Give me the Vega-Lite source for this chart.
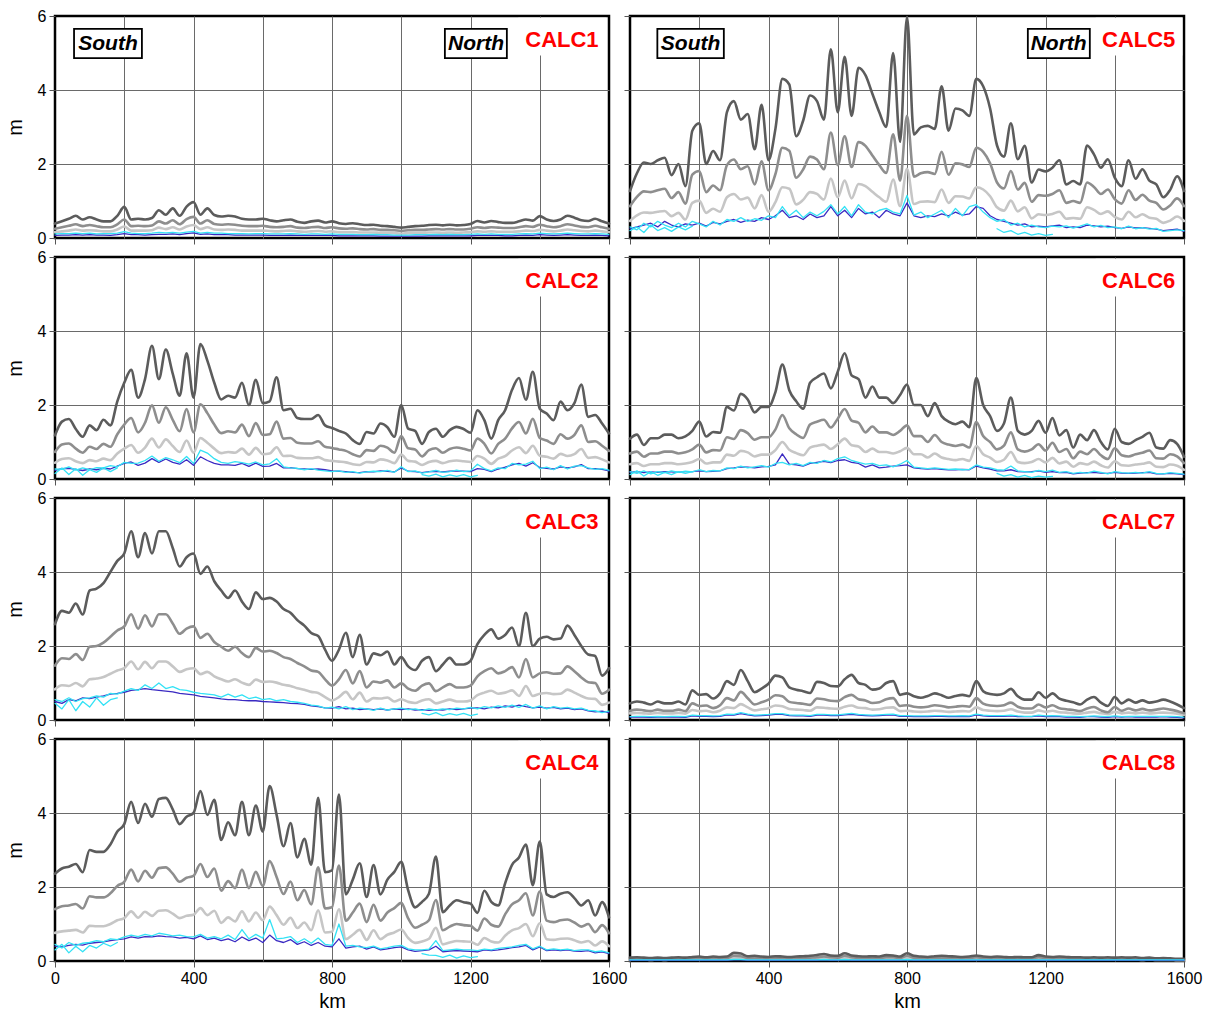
{
"$schema":"https://vega.github.io/schema/vega-lite/v6.json",
"padding":{"left":3,"top":6,"right":5,"bottom":0},
"background":"white",
"config":{"font":"Liberation Sans","view":{"stroke":"#000","strokeWidth":2.5},
"axis":{"domain":false,"grid":true,"gridColor":"#6a6a6a","gridWidth":1,"tickColor":"#555","tickSize":6,"tickWidth":1,"labelFontSize":16,"labelColor":"#000","labelPadding":3,"titleFontSize":20,"titleFontWeight":"normal","titleColor":"#000","labelOverlap":false,"labelFlush":false},
"line":{"strokeJoin":"round","strokeCap":"round"}},
"datasets":{
"c1":[{"km":0,"d":0.39,"m":0.25,"l":0.16,"b":0.07,"c":0.11},{"km":20,"d":0.45,"m":0.29,"l":0.18,"b":0.08,"c":0.12},{"km":40,"d":0.52,"m":0.33,"l":0.2,"b":0.08,"c":0.12},{"km":60,"d":0.6,"m":0.37,"l":0.23,"b":0.09,"c":0.13},{"km":80,"d":0.5,"m":0.32,"l":0.2,"b":0.08,"c":0.12},{"km":100,"d":0.56,"m":0.35,"l":0.21,"b":0.09,"c":0.13},{"km":120,"d":0.5,"m":0.32,"l":0.2,"b":0.08,"c":0.11},{"km":140,"d":0.45,"m":0.29,"l":0.18,"b":0.08,"c":0.12},{"km":160,"d":0.45,"m":0.29,"l":0.18,"b":0.07,"c":0.12},{"km":180,"d":0.6,"m":0.37,"l":0.23,"b":0.09,"c":0.13},{"km":200,"d":0.84,"m":0.5,"l":0.31,"b":0.12,"c":0.17},{"km":220,"d":0.5,"m":0.32,"l":0.2,"b":0.09,"c":0.13},{"km":240,"d":0.52,"m":0.33,"l":0.2,"b":0.09,"c":0.12},{"km":260,"d":0.5,"m":0.32,"l":0.2,"b":0.08,"c":0.12},{"km":280,"d":0.54,"m":0.34,"l":0.21,"b":0.09,"c":0.13},{"km":300,"d":0.75,"m":0.45,"l":0.28,"b":0.1,"c":0.15},{"km":320,"d":0.63,"m":0.39,"l":0.24,"b":0.1,"c":0.14},{"km":340,"d":0.8,"m":0.48,"l":0.29,"b":0.11,"c":0.15},{"km":360,"d":0.6,"m":0.37,"l":0.23,"b":0.09,"c":0.13},{"km":380,"d":0.85,"m":0.51,"l":0.31,"b":0.12,"c":0.16},{"km":400,"d":0.97,"m":0.57,"l":0.35,"b":0.14,"c":0.18},{"km":420,"d":0.63,"m":0.39,"l":0.24,"b":0.1,"c":0.13},{"km":440,"d":0.8,"m":0.48,"l":0.29,"b":0.11,"c":0.15},{"km":460,"d":0.62,"m":0.38,"l":0.23,"b":0.09,"c":0.13},{"km":480,"d":0.58,"m":0.36,"l":0.22,"b":0.09,"c":0.13},{"km":500,"d":0.6,"m":0.37,"l":0.23,"b":0.09,"c":0.12},{"km":520,"d":0.58,"m":0.36,"l":0.22,"b":0.08,"c":0.12},{"km":540,"d":0.52,"m":0.33,"l":0.2,"b":0.08,"c":0.12},{"km":560,"d":0.5,"m":0.32,"l":0.2,"b":0.08,"c":0.11},{"km":580,"d":0.5,"m":0.32,"l":0.2,"b":0.08,"c":0.12},{"km":600,"d":0.52,"m":0.33,"l":0.2,"b":0.08,"c":0.12},{"km":620,"d":0.48,"m":0.3,"l":0.19,"b":0.07,"c":0.11},{"km":640,"d":0.45,"m":0.29,"l":0.18,"b":0.07,"c":0.11},{"km":660,"d":0.48,"m":0.3,"l":0.19,"b":0.07,"c":0.11},{"km":680,"d":0.5,"m":0.32,"l":0.2,"b":0.08,"c":0.12},{"km":700,"d":0.44,"m":0.28,"l":0.18,"b":0.07,"c":0.11},{"km":720,"d":0.41,"m":0.27,"l":0.17,"b":0.07,"c":0.1},{"km":740,"d":0.45,"m":0.29,"l":0.18,"b":0.07,"c":0.11},{"km":760,"d":0.47,"m":0.3,"l":0.19,"b":0.07,"c":0.11},{"km":780,"d":0.42,"m":0.27,"l":0.17,"b":0.07,"c":0.1},{"km":800,"d":0.45,"m":0.29,"l":0.18,"b":0.07,"c":0.11},{"km":820,"d":0.4,"m":0.26,"l":0.16,"b":0.06,"c":0.1},{"km":840,"d":0.38,"m":0.25,"l":0.16,"b":0.06,"c":0.1},{"km":860,"d":0.4,"m":0.26,"l":0.16,"b":0.06,"c":0.1},{"km":880,"d":0.37,"m":0.24,"l":0.15,"b":0.06,"c":0.09},{"km":900,"d":0.35,"m":0.23,"l":0.15,"b":0.06,"c":0.09},{"km":920,"d":0.36,"m":0.24,"l":0.15,"b":0.06,"c":0.1},{"km":940,"d":0.33,"m":0.22,"l":0.14,"b":0.05,"c":0.09},{"km":960,"d":0.32,"m":0.22,"l":0.14,"b":0.05,"c":0.09},{"km":980,"d":0.3,"m":0.21,"l":0.13,"b":0.05,"c":0.08},{"km":1000,"d":0.28,"m":0.19,"l":0.12,"b":0.05,"c":0.08},{"km":1020,"d":0.3,"m":0.21,"l":0.13,"b":0.05,"c":0.08},{"km":1040,"d":0.32,"m":0.22,"l":0.14,"b":0.05,"c":0.09},{"km":1060,"d":0.33,"m":0.22,"l":0.14,"b":0.05,"c":0.09},{"km":1080,"d":0.35,"m":0.23,"l":0.15,"b":0.06,"c":0.09},{"km":1100,"d":0.36,"m":0.24,"l":0.15,"b":0.06,"c":0.1},{"km":1120,"d":0.34,"m":0.23,"l":0.14,"b":0.06,"c":0.09},{"km":1140,"d":0.36,"m":0.24,"l":0.15,"b":0.06,"c":0.1},{"km":1160,"d":0.34,"m":0.23,"l":0.14,"b":0.06,"c":0.09},{"km":1180,"d":0.35,"m":0.23,"l":0.15,"b":0.06,"c":0.09},{"km":1200,"d":0.38,"m":0.25,"l":0.16,"b":0.06,"c":0.1},{"km":1220,"d":0.46,"m":0.29,"l":0.18,"b":0.07,"c":0.11},{"km":1240,"d":0.42,"m":0.27,"l":0.17,"b":0.07,"c":0.1},{"km":1260,"d":0.46,"m":0.29,"l":0.18,"b":0.07,"c":0.11},{"km":1280,"d":0.43,"m":0.28,"l":0.17,"b":0.07,"c":0.1},{"km":1300,"d":0.41,"m":0.27,"l":0.17,"b":0.06,"c":0.1},{"km":1320,"d":0.41,"m":0.27,"l":0.17,"b":0.06,"c":0.1},{"km":1340,"d":0.45,"m":0.29,"l":0.18,"b":0.07,"c":0.11},{"km":1360,"d":0.5,"m":0.32,"l":0.2,"b":0.08,"c":0.12},{"km":1380,"d":0.47,"m":0.3,"l":0.19,"b":0.07,"c":0.11},{"km":1400,"d":0.59,"m":0.36,"l":0.22,"b":0.09,"c":0.13},{"km":1420,"d":0.5,"m":0.32,"l":0.2,"b":0.08,"c":0.12},{"km":1440,"d":0.46,"m":0.29,"l":0.18,"b":0.07,"c":0.11},{"km":1460,"d":0.5,"m":0.32,"l":0.2,"b":0.08,"c":0.12},{"km":1480,"d":0.6,"m":0.37,"l":0.23,"b":0.09,"c":0.13},{"km":1500,"d":0.55,"m":0.34,"l":0.21,"b":0.08,"c":0.12},{"km":1520,"d":0.48,"m":0.3,"l":0.19,"b":0.07,"c":0.11},{"km":1540,"d":0.46,"m":0.29,"l":0.18,"b":0.07,"c":0.11},{"km":1560,"d":0.52,"m":0.33,"l":0.2,"b":0.08,"c":0.12},{"km":1580,"d":0.45,"m":0.29,"l":0.18,"b":0.07,"c":0.11},{"km":1600,"d":0.39,"m":0.25,"l":0.16,"b":0.06,"c":0.1}],
"c2":[{"km":0,"d":1.18,"m":0.73,"l":0.44,"b":0.23,"c":0.27,"c2":0.15},{"km":20,"d":1.55,"m":0.93,"l":0.54,"b":0.28,"c":0.26,"c2":0.3},{"km":40,"d":1.62,"m":0.96,"l":0.56,"b":0.29,"c":0.33,"c2":0.12},{"km":60,"d":1.35,"m":0.82,"l":0.48,"b":0.26,"c":0.24,"c2":0.28},{"km":80,"d":1.14,"m":0.71,"l":0.43,"b":0.23,"c":0.3,"c2":0.1},{"km":100,"d":1.45,"m":0.87,"l":0.51,"b":0.27,"c":0.25,"c2":0.25},{"km":120,"d":1.32,"m":0.81,"l":0.48,"b":0.25,"c":0.31,"c2":0.18},{"km":140,"d":1.6,"m":0.95,"l":0.55,"b":0.29,"c":0.3,"c2":0.3},{"km":160,"d":1.45,"m":0.87,"l":0.51,"b":0.27,"c":0.36,"c2":0.2},{"km":180,"d":2.1,"m":1.21,"l":0.69,"b":0.35,"c":0.33,"c2":0.3},{"km":200,"d":2.6,"m":1.47,"l":0.82,"b":0.42,"c":0.45},{"km":220,"d":2.95,"m":1.65,"l":0.92,"b":0.46,"c":0.42},{"km":240,"d":2.2,"m":1.26,"l":0.71,"b":0.37,"c":0.43},{"km":260,"d":2.7,"m":1.52,"l":0.85,"b":0.43,"c":0.5},{"km":280,"d":3.6,"m":1.99,"l":1.09,"b":0.55,"c":0.62},{"km":300,"d":2.7,"m":1.52,"l":0.85,"b":0.45,"c":0.48},{"km":320,"d":3.5,"m":1.94,"l":1.07,"b":0.54,"c":0.58},{"km":340,"d":2.85,"m":1.6,"l":0.89,"b":0.45,"c":0.52},{"km":360,"d":2.25,"m":1.29,"l":0.73,"b":0.4,"c":0.44},{"km":380,"d":3.4,"m":1.89,"l":1.04,"b":0.52,"c":0.61},{"km":400,"d":2.2,"m":1.26,"l":0.71,"b":0.37,"c":0.42},{"km":420,"d":3.65,"m":2.02,"l":1.11,"b":0.6,"c":0.78},{"km":440,"d":3.2,"m":1.78,"l":0.98,"b":0.5,"c":0.7},{"km":460,"d":2.6,"m":1.47,"l":0.82,"b":0.42,"c":0.55},{"km":480,"d":2.15,"m":1.24,"l":0.7,"b":0.38,"c":0.45},{"km":500,"d":2.25,"m":1.29,"l":0.73,"b":0.38,"c":0.42},{"km":520,"d":2.2,"m":1.26,"l":0.71,"b":0.37,"c":0.47},{"km":540,"d":2.6,"m":1.47,"l":0.82,"b":0.42,"c":0.44},{"km":560,"d":2.0,"m":1.16,"l":0.66,"b":0.34,"c":0.4},{"km":580,"d":2.68,"m":1.51,"l":0.84,"b":0.43,"c":0.46},{"km":600,"d":2.05,"m":1.19,"l":0.67,"b":0.34,"c":0.38},{"km":620,"d":2.1,"m":1.21,"l":0.69,"b":0.35,"c":0.41},{"km":640,"d":2.75,"m":1.55,"l":0.86,"b":0.42,"c":0.55},{"km":660,"d":1.86,"m":1.09,"l":0.62,"b":0.3,"c":0.33},{"km":680,"d":1.9,"m":1.11,"l":0.63,"b":0.31,"c":0.3},{"km":700,"d":1.65,"m":0.98,"l":0.57,"b":0.28,"c":0.29},{"km":720,"d":1.62,"m":0.96,"l":0.56,"b":0.27,"c":0.25},{"km":740,"d":1.62,"m":0.96,"l":0.56,"b":0.26,"c":0.28},{"km":760,"d":1.73,"m":1.02,"l":0.59,"b":0.27,"c":0.24},{"km":780,"d":1.45,"m":0.87,"l":0.51,"b":0.25,"c":0.22},{"km":800,"d":1.38,"m":0.84,"l":0.49,"b":0.22,"c":0.2},{"km":820,"d":1.3,"m":0.8,"l":0.47,"b":0.21,"c":0.22},{"km":840,"d":1.23,"m":0.76,"l":0.45,"b":0.2,"c":0.18},{"km":860,"d":1.05,"m":0.67,"l":0.4,"b":0.18,"c":0.2},{"km":880,"d":0.95,"m":0.61,"l":0.38,"b":0.17,"c":0.16},{"km":900,"d":1.27,"m":0.78,"l":0.46,"b":0.2,"c":0.19},{"km":920,"d":1.23,"m":0.76,"l":0.45,"b":0.19,"c":0.21},{"km":940,"d":1.5,"m":0.9,"l":0.53,"b":0.22,"c":0.2},{"km":960,"d":1.4,"m":0.85,"l":0.5,"b":0.21,"c":0.23},{"km":980,"d":1.14,"m":0.71,"l":0.43,"b":0.19,"c":0.18},{"km":1000,"d":2.0,"m":1.16,"l":0.66,"b":0.3,"c":0.33},{"km":1020,"d":1.36,"m":0.83,"l":0.49,"b":0.21,"c":0.2},{"km":1040,"d":1.3,"m":0.8,"l":0.47,"b":0.2,"c":0.22},{"km":1060,"d":0.95,"m":0.61,"l":0.38,"b":0.17,"c":0.16,"c2":0.12},{"km":1080,"d":1.27,"m":0.78,"l":0.46,"b":0.2,"c":0.19,"c2":0.08},{"km":1100,"d":1.36,"m":0.83,"l":0.49,"b":0.21,"c":0.23,"c2":0.13},{"km":1120,"d":1.14,"m":0.71,"l":0.43,"b":0.19,"c":0.18,"c2":0.06},{"km":1140,"d":1.32,"m":0.81,"l":0.48,"b":0.21,"c":0.2,"c2":0.11},{"km":1160,"d":1.41,"m":0.85,"l":0.5,"b":0.22,"c":0.24,"c2":0.07},{"km":1180,"d":1.35,"m":0.82,"l":0.48,"b":0.21,"c":0.2,"c2":0.12},{"km":1200,"d":1.25,"m":0.77,"l":0.46,"b":0.2,"c":0.22,"c2":0.06},{"km":1220,"d":1.86,"m":1.09,"l":0.62,"b":0.28,"c":0.4,"c2":0.1},{"km":1240,"d":1.59,"m":0.95,"l":0.55,"b":0.26,"c":0.28},{"km":1260,"d":1.09,"m":0.69,"l":0.41,"b":0.2,"c":0.22},{"km":1280,"d":1.59,"m":0.95,"l":0.55,"b":0.27,"c":0.3},{"km":1300,"d":1.86,"m":1.09,"l":0.62,"b":0.32,"c":0.28},{"km":1320,"d":2.41,"m":1.37,"l":0.77,"b":0.38,"c":0.42},{"km":1340,"d":2.73,"m":1.54,"l":0.86,"b":0.42,"c":0.38},{"km":1360,"d":2.14,"m":1.23,"l":0.7,"b":0.35,"c":0.4},{"km":1380,"d":2.9,"m":1.63,"l":0.9,"b":0.44,"c":0.48},{"km":1400,"d":1.9,"m":1.11,"l":0.63,"b":0.31,"c":0.28},{"km":1420,"d":1.77,"m":1.04,"l":0.6,"b":0.29,"c":0.32},{"km":1440,"d":1.59,"m":0.95,"l":0.55,"b":0.27,"c":0.25},{"km":1460,"d":2.09,"m":1.21,"l":0.68,"b":0.33,"c":0.36},{"km":1480,"d":1.86,"m":1.09,"l":0.62,"b":0.3,"c":0.27},{"km":1500,"d":2.05,"m":1.19,"l":0.67,"b":0.33,"c":0.35},{"km":1520,"d":2.55,"m":1.45,"l":0.81,"b":0.39,"c":0.36},{"km":1540,"d":1.68,"m":1.0,"l":0.57,"b":0.28,"c":0.3},{"km":1560,"d":1.73,"m":1.02,"l":0.59,"b":0.28,"c":0.26},{"km":1580,"d":1.5,"m":0.9,"l":0.53,"b":0.26,"c":0.28},{"km":1600,"d":1.23,"m":0.76,"l":0.45,"b":0.22,"c":0.24}],
"c3":[{"km":0,"d":2.59,"m":1.47,"l":0.83,"b":0.5,"c":0.55,"c2":0.45},{"km":20,"d":2.95,"m":1.67,"l":0.94,"b":0.45,"c":0.5,"c2":0.3},{"km":40,"d":2.9,"m":1.65,"l":0.92,"b":0.55,"c":0.6,"c2":0.55},{"km":60,"d":3.15,"m":1.78,"l":1.0,"b":0.52,"c":0.5,"c2":0.25},{"km":80,"d":2.85,"m":1.62,"l":0.91,"b":0.6,"c":0.58,"c2":0.5},{"km":100,"d":3.5,"m":1.98,"l":1.1,"b":0.58,"c":0.6,"c2":0.35},{"km":120,"d":3.55,"m":2.0,"l":1.12,"b":0.62,"c":0.65,"c2":0.6},{"km":140,"d":3.7,"m":2.09,"l":1.16,"b":0.65,"c":0.62,"c2":0.4},{"km":160,"d":4.0,"m":2.25,"l":1.25,"b":0.7,"c":0.72,"c2":0.55},{"km":180,"d":4.3,"m":2.42,"l":1.34,"b":0.72,"c":0.7,"c2":0.6},{"km":200,"d":4.5,"m":2.53,"l":1.4,"b":0.75,"c":0.78},{"km":220,"d":5.1,"m":2.86,"l":1.58,"b":0.8,"c":0.85},{"km":240,"d":4.4,"m":2.47,"l":1.37,"b":0.82,"c":0.8},{"km":260,"d":5.05,"m":2.83,"l":1.57,"b":0.85,"c":0.95},{"km":280,"d":4.5,"m":2.53,"l":1.4,"b":0.82,"c":0.85},{"km":300,"d":5.1,"m":2.86,"l":1.58,"b":0.8,"c":1.0},{"km":320,"d":5.1,"m":2.86,"l":1.58,"b":0.78,"c":0.85},{"km":340,"d":4.65,"m":2.61,"l":1.45,"b":0.76,"c":0.9},{"km":360,"d":4.15,"m":2.33,"l":1.3,"b":0.72,"c":0.82},{"km":380,"d":4.4,"m":2.47,"l":1.37,"b":0.7,"c":0.8},{"km":400,"d":4.5,"m":2.53,"l":1.4,"b":0.68,"c":0.75},{"km":420,"d":3.95,"m":2.22,"l":1.24,"b":0.64,"c":0.72},{"km":440,"d":4.15,"m":2.33,"l":1.3,"b":0.62,"c":0.7},{"km":460,"d":3.75,"m":2.11,"l":1.18,"b":0.6,"c":0.68},{"km":480,"d":3.5,"m":1.98,"l":1.1,"b":0.57,"c":0.62},{"km":500,"d":3.3,"m":1.87,"l":1.04,"b":0.55,"c":0.7},{"km":520,"d":3.5,"m":1.98,"l":1.1,"b":0.55,"c":0.62},{"km":540,"d":3.2,"m":1.81,"l":1.01,"b":0.53,"c":0.68},{"km":560,"d":3.0,"m":1.7,"l":0.95,"b":0.52,"c":0.58},{"km":580,"d":3.45,"m":1.95,"l":1.09,"b":0.52,"c":0.62},{"km":600,"d":3.27,"m":1.85,"l":1.03,"b":0.5,"c":0.55},{"km":620,"d":3.3,"m":1.87,"l":1.04,"b":0.49,"c":0.58},{"km":640,"d":3.2,"m":1.81,"l":1.01,"b":0.48,"c":0.52},{"km":660,"d":3.0,"m":1.7,"l":0.95,"b":0.47,"c":0.55},{"km":680,"d":2.9,"m":1.65,"l":0.92,"b":0.45,"c":0.5},{"km":700,"d":2.7,"m":1.54,"l":0.86,"b":0.44,"c":0.48},{"km":720,"d":2.55,"m":1.45,"l":0.82,"b":0.42,"c":0.45},{"km":740,"d":2.35,"m":1.34,"l":0.76,"b":0.38,"c":0.4},{"km":760,"d":2.27,"m":1.3,"l":0.73,"b":0.36,"c":0.38},{"km":780,"d":1.9,"m":1.1,"l":0.62,"b":0.33,"c":0.32},{"km":800,"d":1.6,"m":0.93,"l":0.53,"b":0.32,"c":0.35},{"km":820,"d":1.9,"m":1.1,"l":0.62,"b":0.36,"c":0.3},{"km":840,"d":2.36,"m":1.35,"l":0.76,"b":0.3,"c":0.36},{"km":860,"d":1.7,"m":0.99,"l":0.56,"b":0.32,"c":0.28},{"km":880,"d":2.3,"m":1.32,"l":0.74,"b":0.28,"c":0.32},{"km":900,"d":1.5,"m":0.88,"l":0.5,"b":0.3,"c":0.3},{"km":920,"d":1.8,"m":1.04,"l":0.59,"b":0.28,"c":0.26},{"km":940,"d":1.75,"m":1.01,"l":0.58,"b":0.3,"c":0.32},{"km":960,"d":1.85,"m":1.07,"l":0.61,"b":0.27,"c":0.27},{"km":980,"d":1.5,"m":0.88,"l":0.5,"b":0.3,"c":0.3},{"km":1000,"d":1.7,"m":0.99,"l":0.56,"b":0.28,"c":0.32},{"km":1020,"d":1.45,"m":0.85,"l":0.49,"b":0.3,"c":0.28},{"km":1040,"d":1.35,"m":0.79,"l":0.46,"b":0.27,"c":0.3},{"km":1060,"d":1.6,"m":0.93,"l":0.53,"b":0.28,"c":0.26,"c2":0.18},{"km":1080,"d":1.7,"m":0.99,"l":0.56,"b":0.26,"c":0.3,"c2":0.14},{"km":1100,"d":1.32,"m":0.78,"l":0.45,"b":0.28,"c":0.27,"c2":0.2},{"km":1120,"d":1.5,"m":0.88,"l":0.5,"b":0.27,"c":0.3,"c2":0.12},{"km":1140,"d":1.68,"m":0.97,"l":0.55,"b":0.3,"c":0.28,"c2":0.17},{"km":1160,"d":1.5,"m":0.88,"l":0.5,"b":0.28,"c":0.32,"c2":0.13},{"km":1180,"d":1.5,"m":0.88,"l":0.5,"b":0.3,"c":0.3,"c2":0.18},{"km":1200,"d":1.6,"m":0.93,"l":0.53,"b":0.32,"c":0.34,"c2":0.12},{"km":1220,"d":2.05,"m":1.18,"l":0.67,"b":0.33,"c":0.3,"c2":0.16},{"km":1240,"d":2.3,"m":1.32,"l":0.74,"b":0.3,"c":0.36},{"km":1260,"d":2.45,"m":1.4,"l":0.79,"b":0.35,"c":0.33},{"km":1280,"d":2.2,"m":1.26,"l":0.71,"b":0.33,"c":0.38},{"km":1300,"d":2.3,"m":1.32,"l":0.74,"b":0.38,"c":0.34},{"km":1320,"d":2.5,"m":1.43,"l":0.8,"b":0.35,"c":0.4},{"km":1340,"d":2.0,"m":1.15,"l":0.65,"b":0.4,"c":0.34},{"km":1360,"d":2.9,"m":1.65,"l":0.92,"b":0.36,"c":0.42},{"km":1380,"d":2.0,"m":1.15,"l":0.65,"b":0.33,"c":0.32},{"km":1400,"d":2.2,"m":1.26,"l":0.71,"b":0.35,"c":0.38},{"km":1420,"d":2.25,"m":1.29,"l":0.73,"b":0.32,"c":0.3},{"km":1440,"d":2.18,"m":1.25,"l":0.7,"b":0.34,"c":0.36},{"km":1460,"d":2.2,"m":1.26,"l":0.71,"b":0.3,"c":0.32},{"km":1480,"d":2.55,"m":1.45,"l":0.82,"b":0.32,"c":0.34},{"km":1500,"d":2.3,"m":1.32,"l":0.74,"b":0.28,"c":0.3},{"km":1520,"d":2.0,"m":1.15,"l":0.65,"b":0.3,"c":0.32},{"km":1540,"d":1.77,"m":1.02,"l":0.58,"b":0.25,"c":0.26},{"km":1560,"d":1.73,"m":1.0,"l":0.57,"b":0.22,"c":0.25},{"km":1580,"d":1.2,"m":0.71,"l":0.41,"b":0.24,"c":0.2},{"km":1600,"d":1.4,"m":0.82,"l":0.47,"b":0.2,"c":0.24}],
"c4":[{"km":0,"d":2.36,"m":1.4,"l":0.76,"b":0.4,"c":0.45,"c2":0.3},{"km":20,"d":2.5,"m":1.48,"l":0.8,"b":0.38,"c":0.35,"c2":0.45},{"km":40,"d":2.55,"m":1.5,"l":0.82,"b":0.42,"c":0.5,"c2":0.22},{"km":60,"d":2.62,"m":1.54,"l":0.84,"b":0.45,"c":0.42,"c2":0.4},{"km":80,"d":2.4,"m":1.42,"l":0.77,"b":0.43,"c":0.48,"c2":0.25},{"km":100,"d":3.0,"m":1.75,"l":0.95,"b":0.48,"c":0.5,"c2":0.42},{"km":120,"d":2.95,"m":1.72,"l":0.94,"b":0.5,"c":0.55,"c2":0.35},{"km":140,"d":2.95,"m":1.72,"l":0.94,"b":0.52,"c":0.52,"c2":0.48},{"km":160,"d":3.15,"m":1.83,"l":1.0,"b":0.55,"c":0.6,"c2":0.4},{"km":180,"d":3.5,"m":2.03,"l":1.1,"b":0.58,"c":0.58,"c2":0.5},{"km":200,"d":3.7,"m":2.14,"l":1.16,"b":0.6,"c":0.65},{"km":220,"d":4.3,"m":2.47,"l":1.34,"b":0.65,"c":0.7},{"km":240,"d":3.73,"m":2.15,"l":1.17,"b":0.62,"c":0.66},{"km":260,"d":4.25,"m":2.44,"l":1.33,"b":0.66,"c":0.72},{"km":280,"d":3.9,"m":2.25,"l":1.22,"b":0.65,"c":0.68},{"km":300,"d":4.38,"m":2.51,"l":1.36,"b":0.68,"c":0.75},{"km":320,"d":4.41,"m":2.53,"l":1.37,"b":0.66,"c":0.72},{"km":340,"d":4.1,"m":2.36,"l":1.28,"b":0.65,"c":0.68},{"km":360,"d":3.7,"m":2.14,"l":1.16,"b":0.62,"c":0.7},{"km":380,"d":3.9,"m":2.25,"l":1.22,"b":0.64,"c":0.66},{"km":400,"d":4.0,"m":2.3,"l":1.25,"b":0.6,"c":0.65},{"km":420,"d":4.59,"m":2.62,"l":1.43,"b":0.68,"c":0.72},{"km":440,"d":3.95,"m":2.27,"l":1.24,"b":0.58,"c":0.62},{"km":460,"d":4.36,"m":2.5,"l":1.36,"b":0.62,"c":0.66},{"km":480,"d":3.27,"m":1.9,"l":1.03,"b":0.55,"c":0.6},{"km":500,"d":3.75,"m":2.16,"l":1.18,"b":0.6,"c":0.7},{"km":520,"d":3.4,"m":1.97,"l":1.07,"b":0.52,"c":0.58},{"km":540,"d":4.3,"m":2.47,"l":1.34,"b":0.65,"c":0.85},{"km":560,"d":3.4,"m":1.97,"l":1.07,"b":0.55,"c":0.6},{"km":580,"d":4.2,"m":2.41,"l":1.31,"b":0.62,"c":0.72},{"km":600,"d":3.5,"m":2.03,"l":1.1,"b":0.5,"c":0.62},{"km":620,"d":4.73,"m":2.7,"l":1.47,"b":0.7,"c":1.12},{"km":640,"d":3.95,"m":2.27,"l":1.24,"b":0.55,"c":0.6},{"km":660,"d":3.1,"m":1.81,"l":0.98,"b":0.5,"c":0.62},{"km":680,"d":3.73,"m":2.15,"l":1.17,"b":0.58,"c":0.66},{"km":700,"d":2.8,"m":1.64,"l":0.89,"b":0.45,"c":0.5},{"km":720,"d":3.3,"m":1.92,"l":1.04,"b":0.52,"c":0.6},{"km":740,"d":2.6,"m":1.53,"l":0.83,"b":0.42,"c":0.48},{"km":760,"d":4.41,"m":2.53,"l":1.37,"b":0.5,"c":0.62},{"km":780,"d":2.4,"m":1.42,"l":0.77,"b":0.4,"c":0.45},{"km":800,"d":2.45,"m":1.45,"l":0.79,"b":0.38,"c":0.42},{"km":820,"d":4.5,"m":2.58,"l":1.4,"b":0.6,"c":1.0},{"km":840,"d":1.8,"m":1.09,"l":0.59,"b":0.35,"c":0.4},{"km":860,"d":2.2,"m":1.31,"l":0.71,"b":0.38,"c":0.42},{"km":880,"d":2.64,"m":1.55,"l":0.84,"b":0.4,"c":0.38},{"km":900,"d":1.73,"m":1.05,"l":0.57,"b":0.32,"c":0.36},{"km":920,"d":2.59,"m":1.52,"l":0.83,"b":0.38,"c":0.4},{"km":940,"d":1.8,"m":1.09,"l":0.59,"b":0.3,"c":0.33},{"km":960,"d":2.2,"m":1.31,"l":0.71,"b":0.33,"c":0.36},{"km":980,"d":2.41,"m":1.43,"l":0.77,"b":0.36,"c":0.4},{"km":1000,"d":2.68,"m":1.57,"l":0.85,"b":0.38,"c":0.42},{"km":1020,"d":1.91,"m":1.15,"l":0.62,"b":0.3,"c":0.33},{"km":1040,"d":1.45,"m":0.9,"l":0.49,"b":0.26,"c":0.3},{"km":1060,"d":1.6,"m":0.98,"l":0.53,"b":0.28,"c":0.3,"c2":0.2},{"km":1080,"d":1.82,"m":1.1,"l":0.6,"b":0.3,"c":0.32,"c2":0.16},{"km":1100,"d":2.82,"m":1.65,"l":0.9,"b":0.4,"c":0.55,"c2":0.15},{"km":1120,"d":1.32,"m":0.83,"l":0.45,"b":0.25,"c":0.28,"c2":0.1},{"km":1140,"d":1.5,"m":0.93,"l":0.5,"b":0.27,"c":0.3,"c2":0.16},{"km":1160,"d":1.64,"m":1.0,"l":0.54,"b":0.28,"c":0.32,"c2":0.08},{"km":1180,"d":1.59,"m":0.97,"l":0.53,"b":0.27,"c":0.3,"c2":0.14},{"km":1200,"d":1.55,"m":0.95,"l":0.52,"b":0.26,"c":0.3,"c2":0.09},{"km":1220,"d":1.3,"m":0.82,"l":0.44,"b":0.25,"c":0.28,"c2":0.12},{"km":1240,"d":1.9,"m":1.15,"l":0.62,"b":0.3,"c":0.32},{"km":1260,"d":1.6,"m":0.98,"l":0.53,"b":0.28,"c":0.3},{"km":1280,"d":1.5,"m":0.93,"l":0.5,"b":0.3,"c":0.34},{"km":1300,"d":2.1,"m":1.26,"l":0.68,"b":0.33,"c":0.36},{"km":1320,"d":2.6,"m":1.53,"l":0.83,"b":0.36,"c":0.38},{"km":1340,"d":2.8,"m":1.64,"l":0.89,"b":0.38,"c":0.42},{"km":1360,"d":3.15,"m":1.83,"l":1.0,"b":0.42,"c":0.45},{"km":1380,"d":2.05,"m":1.23,"l":0.67,"b":0.3,"c":0.33},{"km":1400,"d":3.23,"m":1.88,"l":1.02,"b":0.38,"c":0.4},{"km":1420,"d":1.8,"m":1.09,"l":0.59,"b":0.28,"c":0.3},{"km":1440,"d":1.73,"m":1.05,"l":0.57,"b":0.3,"c":0.33},{"km":1460,"d":1.82,"m":1.1,"l":0.6,"b":0.28,"c":0.3},{"km":1480,"d":1.86,"m":1.12,"l":0.61,"b":0.3,"c":0.32},{"km":1500,"d":1.7,"m":1.04,"l":0.56,"b":0.27,"c":0.28},{"km":1520,"d":1.5,"m":0.93,"l":0.5,"b":0.26,"c":0.3},{"km":1540,"d":1.64,"m":1.0,"l":0.54,"b":0.28,"c":0.3},{"km":1560,"d":1.23,"m":0.78,"l":0.42,"b":0.22,"c":0.25},{"km":1580,"d":1.59,"m":0.97,"l":0.53,"b":0.25,"c":0.27},{"km":1600,"d":1.18,"m":0.75,"l":0.4,"b":0.2,"c":0.22}],
"c5":[{"km":0,"d":1.27,"m":0.86,"l":0.46,"b":0.25,"c":0.3,"c2":0.2},{"km":20,"d":1.75,"m":1.11,"l":0.61,"b":0.3,"c":0.22,"c2":0.3},{"km":40,"d":2.04,"m":1.26,"l":0.69,"b":0.35,"c":0.4,"c2":0.15},{"km":60,"d":2.0,"m":1.24,"l":0.68,"b":0.4,"c":0.3,"c2":0.35},{"km":80,"d":2.1,"m":1.29,"l":0.71,"b":0.3,"c":0.45,"c2":0.2},{"km":100,"d":2.17,"m":1.33,"l":0.73,"b":0.45,"c":0.35,"c2":0.28},{"km":120,"d":1.7,"m":1.08,"l":0.59,"b":0.35,"c":0.28,"c2":0.18},{"km":140,"d":2.0,"m":1.24,"l":0.68,"b":0.3,"c":0.4,"c2":0.3},{"km":160,"d":1.4,"m":0.93,"l":0.5,"b":0.38,"c":0.3,"c2":0.22},{"km":180,"d":2.9,"m":1.71,"l":0.95,"b":0.35,"c":0.45,"c2":0.32},{"km":200,"d":3.1,"m":1.81,"l":1.01,"b":0.4,"c":0.38},{"km":220,"d":2.0,"m":1.24,"l":0.68,"b":0.32,"c":0.3},{"km":240,"d":2.35,"m":1.42,"l":0.79,"b":0.42,"c":0.45},{"km":260,"d":2.1,"m":1.29,"l":0.71,"b":0.38,"c":0.35},{"km":280,"d":3.4,"m":1.97,"l":1.1,"b":0.45,"c":0.5},{"km":300,"d":3.7,"m":2.12,"l":1.19,"b":0.5,"c":0.45},{"km":320,"d":3.2,"m":1.86,"l":1.04,"b":0.42,"c":0.55},{"km":340,"d":3.35,"m":1.94,"l":1.09,"b":0.48,"c":0.45},{"km":360,"d":2.4,"m":1.45,"l":0.8,"b":0.45,"c":0.52},{"km":380,"d":3.6,"m":2.07,"l":1.16,"b":0.55,"c":0.48},{"km":400,"d":2.1,"m":1.29,"l":0.71,"b":0.5,"c":0.6},{"km":420,"d":2.95,"m":1.73,"l":0.97,"b":0.6,"c":0.55},{"km":440,"d":4.3,"m":2.44,"l":1.37,"b":0.75,"c":0.85},{"km":460,"d":4.15,"m":2.36,"l":1.33,"b":0.55,"c":0.6},{"km":480,"d":2.75,"m":1.63,"l":0.91,"b":0.6,"c":0.75},{"km":500,"d":3.17,"m":1.85,"l":1.03,"b":0.5,"c":0.55},{"km":520,"d":3.85,"m":2.2,"l":1.24,"b":0.65,"c":0.7},{"km":540,"d":3.7,"m":2.12,"l":1.19,"b":0.55,"c":0.6},{"km":560,"d":3.2,"m":1.86,"l":1.04,"b":0.6,"c":0.72},{"km":580,"d":5.1,"m":2.85,"l":1.61,"b":0.85,"c":0.9},{"km":600,"d":3.4,"m":1.97,"l":1.1,"b":0.6,"c":0.65},{"km":620,"d":4.9,"m":2.75,"l":1.55,"b":0.75,"c":0.85},{"km":640,"d":3.3,"m":1.92,"l":1.07,"b":0.55,"c":0.6},{"km":660,"d":4.6,"m":2.59,"l":1.46,"b":0.8,"c":0.9},{"km":680,"d":4.4,"m":2.49,"l":1.4,"b":0.65,"c":0.7},{"km":700,"d":3.9,"m":2.23,"l":1.25,"b":0.7,"c":0.65},{"km":720,"d":3.4,"m":1.97,"l":1.1,"b":0.55,"c":0.75},{"km":740,"d":3.0,"m":1.76,"l":0.98,"b":0.75,"c":0.8},{"km":760,"d":5.0,"m":2.8,"l":1.58,"b":0.65,"c":0.7},{"km":780,"d":2.6,"m":1.55,"l":0.86,"b":0.6,"c":0.65},{"km":800,"d":5.97,"m":3.3,"l":1.87,"b":0.95,"c":1.15},{"km":820,"d":2.8,"m":1.66,"l":0.92,"b":0.6,"c":0.62},{"km":840,"d":2.99,"m":1.75,"l":0.98,"b":0.55,"c":0.7},{"km":860,"d":3.03,"m":1.78,"l":0.99,"b":0.6,"c":0.55},{"km":880,"d":2.95,"m":1.73,"l":0.97,"b":0.58,"c":0.65},{"km":900,"d":4.1,"m":2.33,"l":1.31,"b":0.65,"c":0.75},{"km":920,"d":2.9,"m":1.71,"l":0.95,"b":0.6,"c":0.55},{"km":940,"d":3.5,"m":2.02,"l":1.13,"b":0.7,"c":0.8},{"km":960,"d":3.45,"m":1.99,"l":1.12,"b":0.62,"c":0.6},{"km":980,"d":3.3,"m":1.92,"l":1.07,"b":0.65,"c":0.85},{"km":1000,"d":4.3,"m":2.44,"l":1.37,"b":0.85,"c":0.9},{"km":1020,"d":4.1,"m":2.33,"l":1.31,"b":0.8,"c":0.7},{"km":1040,"d":3.5,"m":2.02,"l":1.13,"b":0.6,"c":0.55},{"km":1060,"d":2.5,"m":1.5,"l":0.83,"b":0.5,"c":0.45,"c2":0.25},{"km":1080,"d":2.2,"m":1.34,"l":0.74,"b":0.45,"c":0.5,"c2":0.15},{"km":1100,"d":3.1,"m":1.81,"l":1.01,"b":0.4,"c":0.35,"c2":0.2},{"km":1120,"d":2.13,"m":1.31,"l":0.72,"b":0.35,"c":0.4,"c2":0.1},{"km":1140,"d":2.49,"m":1.49,"l":0.83,"b":0.38,"c":0.3,"c2":0.15},{"km":1160,"d":1.5,"m":0.98,"l":0.53,"b":0.3,"c":0.35,"c2":0.08},{"km":1180,"d":1.85,"m":1.16,"l":0.64,"b":0.32,"c":0.3,"c2":0.12},{"km":1200,"d":1.8,"m":1.14,"l":0.62,"b":0.3,"c":0.28,"c2":0.07},{"km":1220,"d":1.9,"m":1.19,"l":0.65,"b":0.33,"c":0.32,"c2":0.1},{"km":1240,"d":2.1,"m":1.29,"l":0.71,"b":0.35,"c":0.3},{"km":1260,"d":1.45,"m":0.95,"l":0.52,"b":0.28,"c":0.33},{"km":1280,"d":1.54,"m":1.0,"l":0.54,"b":0.3,"c":0.27},{"km":1300,"d":1.45,"m":0.95,"l":0.52,"b":0.28,"c":0.32},{"km":1320,"d":2.5,"m":1.5,"l":0.83,"b":0.35,"c":0.38},{"km":1340,"d":2.26,"m":1.38,"l":0.76,"b":0.33,"c":0.3},{"km":1360,"d":1.9,"m":1.19,"l":0.65,"b":0.3,"c":0.34},{"km":1380,"d":2.13,"m":1.31,"l":0.72,"b":0.32,"c":0.28},{"km":1400,"d":1.63,"m":1.05,"l":0.57,"b":0.28,"c":0.3},{"km":1420,"d":1.4,"m":0.93,"l":0.5,"b":0.26,"c":0.25},{"km":1440,"d":2.1,"m":1.29,"l":0.71,"b":0.3,"c":0.32},{"km":1460,"d":1.6,"m":1.03,"l":0.56,"b":0.27,"c":0.25},{"km":1480,"d":1.86,"m":1.17,"l":0.64,"b":0.28,"c":0.28},{"km":1500,"d":1.55,"m":1.01,"l":0.55,"b":0.26,"c":0.24},{"km":1520,"d":1.45,"m":0.95,"l":0.52,"b":0.24,"c":0.26},{"km":1540,"d":1.1,"m":0.77,"l":0.41,"b":0.2,"c":0.18},{"km":1560,"d":1.3,"m":0.88,"l":0.47,"b":0.22,"c":0.2},{"km":1580,"d":1.67,"m":1.07,"l":0.58,"b":0.24,"c":0.22},{"km":1600,"d":1.27,"m":0.86,"l":0.46,"b":0.18,"c":0.2}],
"c6":[{"km":0,"d":1.09,"m":0.69,"l":0.4,"b":0.18,"c":0.2,"c2":0.12},{"km":20,"d":1.2,"m":0.74,"l":0.43,"b":0.2,"c":0.15,"c2":0.22},{"km":40,"d":0.92,"m":0.6,"l":0.35,"b":0.17,"c":0.22,"c2":0.08},{"km":60,"d":1.1,"m":0.69,"l":0.4,"b":0.19,"c":0.14,"c2":0.2},{"km":80,"d":1.1,"m":0.69,"l":0.4,"b":0.18,"c":0.2,"c2":0.1},{"km":100,"d":1.2,"m":0.74,"l":0.43,"b":0.2,"c":0.17,"c2":0.18},{"km":120,"d":1.2,"m":0.74,"l":0.43,"b":0.19,"c":0.22,"c2":0.12},{"km":140,"d":1.1,"m":0.69,"l":0.4,"b":0.18,"c":0.18,"c2":0.2},{"km":160,"d":1.15,"m":0.72,"l":0.42,"b":0.2,"c":0.21,"c2":0.15},{"km":180,"d":1.3,"m":0.8,"l":0.46,"b":0.2,"c":0.19,"c2":0.2},{"km":200,"d":1.55,"m":0.93,"l":0.54,"b":0.22,"c":0.25},{"km":220,"d":1.15,"m":0.72,"l":0.42,"b":0.2,"c":0.2},{"km":240,"d":1.27,"m":0.78,"l":0.45,"b":0.21,"c":0.23},{"km":260,"d":1.25,"m":0.77,"l":0.45,"b":0.22,"c":0.22},{"km":280,"d":1.95,"m":1.13,"l":0.66,"b":0.28,"c":0.3},{"km":300,"d":1.85,"m":1.08,"l":0.63,"b":0.3,"c":0.28},{"km":320,"d":2.3,"m":1.32,"l":0.76,"b":0.33,"c":0.35},{"km":340,"d":2.15,"m":1.24,"l":0.72,"b":0.32,"c":0.3},{"km":360,"d":1.8,"m":1.06,"l":0.61,"b":0.3,"c":0.33},{"km":380,"d":1.95,"m":1.13,"l":0.66,"b":0.33,"c":0.36},{"km":400,"d":1.95,"m":1.13,"l":0.66,"b":0.34,"c":0.32},{"km":420,"d":2.35,"m":1.34,"l":0.78,"b":0.38,"c":0.42},{"km":440,"d":3.09,"m":1.73,"l":1.0,"b":0.68,"c":0.45},{"km":460,"d":2.4,"m":1.37,"l":0.79,"b":0.4,"c":0.38},{"km":480,"d":2.1,"m":1.21,"l":0.7,"b":0.38,"c":0.42},{"km":500,"d":1.9,"m":1.11,"l":0.64,"b":0.35,"c":0.36},{"km":520,"d":2.6,"m":1.47,"l":0.85,"b":0.42,"c":0.45},{"km":540,"d":2.75,"m":1.55,"l":0.9,"b":0.45,"c":0.42},{"km":560,"d":2.85,"m":1.6,"l":0.93,"b":0.48,"c":0.5},{"km":580,"d":2.45,"m":1.39,"l":0.81,"b":0.44,"c":0.46},{"km":600,"d":2.9,"m":1.63,"l":0.94,"b":0.5,"c":0.55},{"km":620,"d":3.4,"m":1.89,"l":1.09,"b":0.52,"c":0.6},{"km":640,"d":2.8,"m":1.58,"l":0.91,"b":0.45,"c":0.5},{"km":660,"d":2.7,"m":1.52,"l":0.88,"b":0.42,"c":0.45},{"km":680,"d":2.2,"m":1.26,"l":0.73,"b":0.32,"c":0.4},{"km":700,"d":2.5,"m":1.42,"l":0.82,"b":0.38,"c":0.42},{"km":720,"d":2.2,"m":1.26,"l":0.73,"b":0.3,"c":0.36},{"km":740,"d":2.2,"m":1.26,"l":0.73,"b":0.32,"c":0.38},{"km":760,"d":2.05,"m":1.19,"l":0.69,"b":0.35,"c":0.33},{"km":780,"d":2.27,"m":1.3,"l":0.75,"b":0.36,"c":0.4},{"km":800,"d":2.55,"m":1.45,"l":0.84,"b":0.38,"c":0.5},{"km":820,"d":2.0,"m":1.16,"l":0.67,"b":0.3,"c":0.32},{"km":840,"d":2.0,"m":1.16,"l":0.67,"b":0.28,"c":0.3},{"km":860,"d":1.7,"m":1.0,"l":0.58,"b":0.27,"c":0.28},{"km":880,"d":2.05,"m":1.19,"l":0.69,"b":0.28,"c":0.3},{"km":900,"d":1.7,"m":1.0,"l":0.58,"b":0.26,"c":0.28},{"km":920,"d":1.55,"m":0.93,"l":0.54,"b":0.25,"c":0.26},{"km":940,"d":1.48,"m":0.89,"l":0.51,"b":0.25,"c":0.27},{"km":960,"d":1.55,"m":0.93,"l":0.54,"b":0.26,"c":0.25},{"km":980,"d":1.4,"m":0.85,"l":0.49,"b":0.25,"c":0.26},{"km":1000,"d":2.73,"m":1.54,"l":0.89,"b":0.35,"c":0.38},{"km":1020,"d":2.0,"m":1.16,"l":0.67,"b":0.3,"c":0.32},{"km":1040,"d":1.7,"m":1.0,"l":0.58,"b":0.27,"c":0.3},{"km":1060,"d":1.3,"m":0.8,"l":0.46,"b":0.22,"c":0.25,"c2":0.15},{"km":1080,"d":1.5,"m":0.9,"l":0.52,"b":0.22,"c":0.24,"c2":0.08},{"km":1100,"d":2.2,"m":1.26,"l":0.73,"b":0.25,"c":0.35,"c2":0.12},{"km":1120,"d":1.3,"m":0.8,"l":0.46,"b":0.2,"c":0.22,"c2":0.05},{"km":1140,"d":1.2,"m":0.74,"l":0.43,"b":0.19,"c":0.2,"c2":0.1},{"km":1160,"d":1.3,"m":0.8,"l":0.46,"b":0.2,"c":0.18,"c2":0.04},{"km":1180,"d":1.57,"m":0.94,"l":0.54,"b":0.22,"c":0.23,"c2":0.08},{"km":1200,"d":1.25,"m":0.77,"l":0.45,"b":0.18,"c":0.2,"c2":0.05},{"km":1220,"d":1.65,"m":0.98,"l":0.57,"b":0.2,"c":0.24,"c2":0.07},{"km":1240,"d":1.18,"m":0.73,"l":0.42,"b":0.17,"c":0.18},{"km":1260,"d":1.32,"m":0.81,"l":0.47,"b":0.18,"c":0.2},{"km":1280,"d":0.85,"m":0.56,"l":0.33,"b":0.14,"c":0.15},{"km":1300,"d":1.2,"m":0.74,"l":0.43,"b":0.16,"c":0.18},{"km":1320,"d":1.05,"m":0.67,"l":0.39,"b":0.17,"c":0.16},{"km":1340,"d":1.32,"m":0.81,"l":0.47,"b":0.18,"c":0.21},{"km":1360,"d":1.0,"m":0.64,"l":0.37,"b":0.16,"c":0.18},{"km":1380,"d":0.8,"m":0.54,"l":0.31,"b":0.15,"c":0.14},{"km":1400,"d":1.36,"m":0.83,"l":0.48,"b":0.18,"c":0.2},{"km":1420,"d":1.0,"m":0.64,"l":0.37,"b":0.16,"c":0.17},{"km":1440,"d":0.95,"m":0.61,"l":0.36,"b":0.15,"c":0.16},{"km":1460,"d":1.05,"m":0.67,"l":0.39,"b":0.16,"c":0.18},{"km":1480,"d":1.14,"m":0.71,"l":0.41,"b":0.17,"c":0.16},{"km":1500,"d":1.25,"m":0.77,"l":0.45,"b":0.18,"c":0.2},{"km":1520,"d":0.85,"m":0.56,"l":0.33,"b":0.14,"c":0.15},{"km":1540,"d":0.82,"m":0.55,"l":0.32,"b":0.14,"c":0.14},{"km":1560,"d":1.05,"m":0.67,"l":0.39,"b":0.15,"c":0.17},{"km":1580,"d":0.95,"m":0.61,"l":0.36,"b":0.14,"c":0.15},{"km":1600,"d":0.6,"m":0.43,"l":0.25,"b":0.12,"c":0.13}],
"c7":[{"km":0,"d":0.45,"m":0.25,"l":0.18,"b":0.08,"c":0.09},{"km":20,"d":0.5,"m":0.28,"l":0.19,"b":0.08,"c":0.1},{"km":40,"d":0.47,"m":0.26,"l":0.18,"b":0.08,"c":0.1},{"km":60,"d":0.42,"m":0.24,"l":0.17,"b":0.07,"c":0.09},{"km":80,"d":0.5,"m":0.28,"l":0.19,"b":0.08,"c":0.1},{"km":100,"d":0.45,"m":0.25,"l":0.18,"b":0.08,"c":0.09},{"km":120,"d":0.45,"m":0.25,"l":0.18,"b":0.08,"c":0.1},{"km":140,"d":0.5,"m":0.28,"l":0.19,"b":0.08,"c":0.1},{"km":160,"d":0.42,"m":0.24,"l":0.17,"b":0.07,"c":0.09},{"km":180,"d":0.8,"m":0.45,"l":0.27,"b":0.11,"c":0.13},{"km":200,"d":0.68,"m":0.38,"l":0.24,"b":0.1,"c":0.12},{"km":220,"d":0.7,"m":0.39,"l":0.25,"b":0.1,"c":0.12},{"km":240,"d":0.58,"m":0.32,"l":0.21,"b":0.09,"c":0.11},{"km":260,"d":0.72,"m":0.4,"l":0.25,"b":0.1,"c":0.12},{"km":280,"d":1.05,"m":0.59,"l":0.34,"b":0.14,"c":0.16},{"km":300,"d":0.95,"m":0.53,"l":0.32,"b":0.13,"c":0.15},{"km":320,"d":1.35,"m":0.76,"l":0.43,"b":0.17,"c":0.2},{"km":340,"d":1.05,"m":0.59,"l":0.34,"b":0.14,"c":0.16},{"km":360,"d":0.75,"m":0.42,"l":0.26,"b":0.11,"c":0.13},{"km":380,"d":0.85,"m":0.48,"l":0.29,"b":0.12,"c":0.14},{"km":400,"d":0.98,"m":0.55,"l":0.32,"b":0.13,"c":0.15},{"km":420,"d":1.2,"m":0.67,"l":0.39,"b":0.15,"c":0.17},{"km":440,"d":1.15,"m":0.64,"l":0.37,"b":0.15,"c":0.17},{"km":460,"d":0.88,"m":0.49,"l":0.3,"b":0.12,"c":0.14},{"km":480,"d":0.82,"m":0.46,"l":0.28,"b":0.11,"c":0.13},{"km":500,"d":0.78,"m":0.44,"l":0.27,"b":0.11,"c":0.13},{"km":520,"d":0.73,"m":0.41,"l":0.25,"b":0.1,"c":0.12},{"km":540,"d":1.03,"m":0.58,"l":0.34,"b":0.13,"c":0.15},{"km":560,"d":1.0,"m":0.56,"l":0.33,"b":0.13,"c":0.15},{"km":580,"d":0.92,"m":0.52,"l":0.31,"b":0.12,"c":0.14},{"km":600,"d":0.91,"m":0.51,"l":0.3,"b":0.12,"c":0.14},{"km":620,"d":1.1,"m":0.62,"l":0.36,"b":0.14,"c":0.16},{"km":640,"d":1.22,"m":0.68,"l":0.39,"b":0.15,"c":0.18},{"km":660,"d":1.0,"m":0.56,"l":0.33,"b":0.13,"c":0.15},{"km":680,"d":0.95,"m":0.53,"l":0.32,"b":0.12,"c":0.14},{"km":700,"d":0.82,"m":0.46,"l":0.28,"b":0.11,"c":0.13},{"km":720,"d":0.85,"m":0.48,"l":0.29,"b":0.12,"c":0.14},{"km":740,"d":1.0,"m":0.56,"l":0.33,"b":0.13,"c":0.15},{"km":760,"d":1.05,"m":0.59,"l":0.34,"b":0.14,"c":0.16},{"km":780,"d":0.68,"m":0.38,"l":0.24,"b":0.1,"c":0.12},{"km":800,"d":0.72,"m":0.4,"l":0.25,"b":0.1,"c":0.12},{"km":820,"d":0.64,"m":0.36,"l":0.23,"b":0.09,"c":0.11},{"km":840,"d":0.6,"m":0.34,"l":0.22,"b":0.09,"c":0.11},{"km":860,"d":0.65,"m":0.36,"l":0.23,"b":0.09,"c":0.11},{"km":880,"d":0.72,"m":0.4,"l":0.25,"b":0.1,"c":0.12},{"km":900,"d":0.67,"m":0.38,"l":0.24,"b":0.1,"c":0.12},{"km":920,"d":0.6,"m":0.34,"l":0.22,"b":0.09,"c":0.11},{"km":940,"d":0.65,"m":0.36,"l":0.23,"b":0.09,"c":0.11},{"km":960,"d":0.68,"m":0.38,"l":0.24,"b":0.1,"c":0.12},{"km":980,"d":0.64,"m":0.36,"l":0.23,"b":0.09,"c":0.11},{"km":1000,"d":1.05,"m":0.59,"l":0.34,"b":0.14,"c":0.16},{"km":1020,"d":0.78,"m":0.44,"l":0.27,"b":0.11,"c":0.13},{"km":1040,"d":0.7,"m":0.39,"l":0.25,"b":0.1,"c":0.12},{"km":1060,"d":0.68,"m":0.38,"l":0.24,"b":0.1,"c":0.12},{"km":1080,"d":0.72,"m":0.4,"l":0.25,"b":0.1,"c":0.12},{"km":1100,"d":0.84,"m":0.47,"l":0.29,"b":0.11,"c":0.13},{"km":1120,"d":0.64,"m":0.36,"l":0.23,"b":0.09,"c":0.11},{"km":1140,"d":0.55,"m":0.31,"l":0.2,"b":0.09,"c":0.1},{"km":1160,"d":0.55,"m":0.31,"l":0.2,"b":0.09,"c":0.1},{"km":1180,"d":0.75,"m":0.42,"l":0.26,"b":0.11,"c":0.13},{"km":1200,"d":0.6,"m":0.34,"l":0.22,"b":0.09,"c":0.11},{"km":1220,"d":0.72,"m":0.4,"l":0.25,"b":0.1,"c":0.12},{"km":1240,"d":0.58,"m":0.32,"l":0.21,"b":0.09,"c":0.11},{"km":1260,"d":0.52,"m":0.29,"l":0.2,"b":0.08,"c":0.1},{"km":1280,"d":0.48,"m":0.27,"l":0.18,"b":0.08,"c":0.1},{"km":1300,"d":0.42,"m":0.24,"l":0.17,"b":0.07,"c":0.09},{"km":1320,"d":0.55,"m":0.31,"l":0.2,"b":0.09,"c":0.1},{"km":1340,"d":0.62,"m":0.35,"l":0.22,"b":0.09,"c":0.11},{"km":1360,"d":0.47,"m":0.26,"l":0.18,"b":0.08,"c":0.1},{"km":1380,"d":0.38,"m":0.21,"l":0.16,"b":0.07,"c":0.09},{"km":1400,"d":0.62,"m":0.35,"l":0.22,"b":0.09,"c":0.11},{"km":1420,"d":0.45,"m":0.25,"l":0.18,"b":0.08,"c":0.09},{"km":1440,"d":0.55,"m":0.31,"l":0.2,"b":0.09,"c":0.1},{"km":1460,"d":0.47,"m":0.26,"l":0.18,"b":0.08,"c":0.1},{"km":1480,"d":0.53,"m":0.3,"l":0.2,"b":0.08,"c":0.1},{"km":1500,"d":0.47,"m":0.26,"l":0.18,"b":0.08,"c":0.1},{"km":1520,"d":0.5,"m":0.28,"l":0.19,"b":0.08,"c":0.1},{"km":1540,"d":0.55,"m":0.31,"l":0.2,"b":0.09,"c":0.1},{"km":1560,"d":0.5,"m":0.28,"l":0.19,"b":0.08,"c":0.1},{"km":1580,"d":0.42,"m":0.24,"l":0.17,"b":0.07,"c":0.09},{"km":1600,"d":0.32,"m":0.18,"l":0.14,"b":0.06,"c":0.08}],
"c8":[{"km":0,"d":0.09,"m":0.06,"l":0.04,"b":0.02,"c":0.03},{"km":20,"d":0.1,"m":0.07,"l":0.04,"b":0.02,"c":0.03},{"km":40,"d":0.09,"m":0.06,"l":0.04,"b":0.02,"c":0.03},{"km":60,"d":0.08,"m":0.05,"l":0.03,"b":0.02,"c":0.03},{"km":80,"d":0.09,"m":0.06,"l":0.04,"b":0.02,"c":0.03},{"km":100,"d":0.08,"m":0.05,"l":0.03,"b":0.02,"c":0.03},{"km":120,"d":0.09,"m":0.06,"l":0.04,"b":0.02,"c":0.03},{"km":140,"d":0.1,"m":0.07,"l":0.04,"b":0.02,"c":0.03},{"km":160,"d":0.09,"m":0.06,"l":0.04,"b":0.02,"c":0.03},{"km":180,"d":0.11,"m":0.07,"l":0.04,"b":0.02,"c":0.03},{"km":200,"d":0.12,"m":0.08,"l":0.05,"b":0.02,"c":0.03},{"km":220,"d":0.1,"m":0.07,"l":0.04,"b":0.02,"c":0.03},{"km":240,"d":0.12,"m":0.08,"l":0.05,"b":0.02,"c":0.03},{"km":260,"d":0.11,"m":0.07,"l":0.04,"b":0.02,"c":0.03},{"km":280,"d":0.12,"m":0.08,"l":0.05,"b":0.02,"c":0.03},{"km":300,"d":0.22,"m":0.14,"l":0.09,"b":0.03,"c":0.04},{"km":320,"d":0.2,"m":0.13,"l":0.08,"b":0.03,"c":0.04},{"km":340,"d":0.13,"m":0.08,"l":0.05,"b":0.02,"c":0.03},{"km":360,"d":0.14,"m":0.09,"l":0.06,"b":0.02,"c":0.03},{"km":380,"d":0.12,"m":0.08,"l":0.05,"b":0.02,"c":0.03},{"km":400,"d":0.11,"m":0.07,"l":0.04,"b":0.02,"c":0.03},{"km":420,"d":0.13,"m":0.08,"l":0.05,"b":0.02,"c":0.03},{"km":440,"d":0.12,"m":0.08,"l":0.05,"b":0.02,"c":0.03},{"km":460,"d":0.11,"m":0.07,"l":0.04,"b":0.02,"c":0.03},{"km":480,"d":0.12,"m":0.08,"l":0.05,"b":0.02,"c":0.03},{"km":500,"d":0.13,"m":0.08,"l":0.05,"b":0.02,"c":0.03},{"km":520,"d":0.14,"m":0.09,"l":0.06,"b":0.02,"c":0.03},{"km":540,"d":0.16,"m":0.1,"l":0.06,"b":0.02,"c":0.03},{"km":560,"d":0.19,"m":0.12,"l":0.08,"b":0.03,"c":0.04},{"km":580,"d":0.15,"m":0.1,"l":0.06,"b":0.02,"c":0.03},{"km":600,"d":0.14,"m":0.09,"l":0.06,"b":0.02,"c":0.03},{"km":620,"d":0.21,"m":0.14,"l":0.08,"b":0.03,"c":0.04},{"km":640,"d":0.15,"m":0.1,"l":0.06,"b":0.02,"c":0.03},{"km":660,"d":0.13,"m":0.08,"l":0.05,"b":0.02,"c":0.03},{"km":680,"d":0.12,"m":0.08,"l":0.05,"b":0.02,"c":0.03},{"km":700,"d":0.13,"m":0.08,"l":0.05,"b":0.02,"c":0.03},{"km":720,"d":0.12,"m":0.08,"l":0.05,"b":0.02,"c":0.03},{"km":740,"d":0.16,"m":0.1,"l":0.06,"b":0.02,"c":0.03},{"km":760,"d":0.15,"m":0.1,"l":0.06,"b":0.02,"c":0.03},{"km":780,"d":0.12,"m":0.08,"l":0.05,"b":0.02,"c":0.03},{"km":800,"d":0.21,"m":0.14,"l":0.08,"b":0.03,"c":0.04},{"km":820,"d":0.14,"m":0.09,"l":0.06,"b":0.02,"c":0.03},{"km":840,"d":0.12,"m":0.08,"l":0.05,"b":0.02,"c":0.03},{"km":860,"d":0.11,"m":0.07,"l":0.04,"b":0.02,"c":0.03},{"km":880,"d":0.13,"m":0.08,"l":0.05,"b":0.02,"c":0.03},{"km":900,"d":0.14,"m":0.09,"l":0.06,"b":0.02,"c":0.03},{"km":920,"d":0.13,"m":0.08,"l":0.05,"b":0.02,"c":0.03},{"km":940,"d":0.12,"m":0.08,"l":0.05,"b":0.02,"c":0.03},{"km":960,"d":0.11,"m":0.07,"l":0.04,"b":0.02,"c":0.03},{"km":980,"d":0.12,"m":0.08,"l":0.05,"b":0.02,"c":0.03},{"km":1000,"d":0.15,"m":0.1,"l":0.06,"b":0.02,"c":0.03},{"km":1020,"d":0.12,"m":0.08,"l":0.05,"b":0.02,"c":0.03},{"km":1040,"d":0.11,"m":0.07,"l":0.04,"b":0.02,"c":0.03},{"km":1060,"d":0.12,"m":0.08,"l":0.05,"b":0.02,"c":0.03},{"km":1080,"d":0.11,"m":0.07,"l":0.04,"b":0.02,"c":0.03},{"km":1100,"d":0.1,"m":0.07,"l":0.04,"b":0.02,"c":0.03},{"km":1120,"d":0.11,"m":0.07,"l":0.04,"b":0.02,"c":0.03},{"km":1140,"d":0.1,"m":0.07,"l":0.04,"b":0.02,"c":0.03},{"km":1160,"d":0.1,"m":0.07,"l":0.04,"b":0.02,"c":0.03},{"km":1180,"d":0.16,"m":0.1,"l":0.06,"b":0.02,"c":0.03},{"km":1200,"d":0.12,"m":0.08,"l":0.05,"b":0.02,"c":0.03},{"km":1220,"d":0.11,"m":0.07,"l":0.04,"b":0.02,"c":0.03},{"km":1240,"d":0.12,"m":0.08,"l":0.05,"b":0.02,"c":0.03},{"km":1260,"d":0.11,"m":0.07,"l":0.04,"b":0.02,"c":0.03},{"km":1280,"d":0.1,"m":0.07,"l":0.04,"b":0.02,"c":0.03},{"km":1300,"d":0.1,"m":0.07,"l":0.04,"b":0.02,"c":0.03},{"km":1320,"d":0.09,"m":0.06,"l":0.04,"b":0.02,"c":0.03},{"km":1340,"d":0.1,"m":0.07,"l":0.04,"b":0.02,"c":0.03},{"km":1360,"d":0.09,"m":0.06,"l":0.04,"b":0.02,"c":0.03},{"km":1380,"d":0.1,"m":0.07,"l":0.04,"b":0.02,"c":0.03},{"km":1400,"d":0.09,"m":0.06,"l":0.04,"b":0.02,"c":0.03},{"km":1420,"d":0.1,"m":0.07,"l":0.04,"b":0.02,"c":0.03},{"km":1440,"d":0.09,"m":0.06,"l":0.04,"b":0.02,"c":0.03},{"km":1460,"d":0.1,"m":0.07,"l":0.04,"b":0.02,"c":0.03},{"km":1480,"d":0.08,"m":0.05,"l":0.03,"b":0.02,"c":0.03},{"km":1500,"d":0.09,"m":0.06,"l":0.04,"b":0.02,"c":0.03},{"km":1520,"d":0.07,"m":0.05,"l":0.03,"b":0.02,"c":0.03},{"km":1540,"d":0.08,"m":0.05,"l":0.03,"b":0.02,"c":0.03},{"km":1560,"d":0.07,"m":0.05,"l":0.03,"b":0.02,"c":0.03},{"km":1580,"d":0.06,"m":0.04,"l":0.02,"b":0.02,"c":0.03},{"km":1600,"d":0.06,"m":0.04,"l":0.02,"b":0.02,"c":0.03}]
},
"columns":2,
"spacing":{"row":19,"column":21},
"bounds":"flush",
"concat":[
{"width":554,"height":222,"layer":[
{"data":{"name":"c1"},"transform":[{"fold":["l","m","d"],"as":["s","v"]}],"mark":{"type":"line","strokeWidth":2.6,"interpolate":"monotone"},
"encoding":{"x":{"field":"km","type":"quantitative","scale":{"domain":[0,1600]},"axis":{"values":[0,200,400,600,800,1000,1200,1400,1600],"labels":false,"title":null,"tickOpacity":{"condition":{"test":"datum.value % 400 === 0","value":1},"value":0},"gridOpacity":{"condition":{"test":"datum.value === 0 || datum.value === 1600","value":0},"value":1}}},
"y":{"field":"v","type":"quantitative","scale":{"domain":[0,6]},"axis":{"values":[0,1,2,3,4,5,6],"labelExpr":"datum.value % 2 === 0 ? datum.label : ''","title":"m","titlePadding":12,"tickOpacity":{"condition":{"test":"datum.value % 2 === 0","value":1},"value":0},"gridOpacity":{"condition":{"test":"datum.value === 0 || datum.value === 6","value":0},"value":1}}},
"color":{"field":"s","type":"nominal","scale":{"domain":["d","m","l","b","c","c2"],"range":["#5c5c5c","#8e8e8e","#c6c6c6","#3a2ac2","#33e2f5","#33e2f5"]},"legend":null}}},
{"data":{"name":"c1"},"transform":[{"fold":["b","c","c2"],"as":["s","v"]}],"mark":{"type":"line","strokeWidth":1.3,"invalid":"break-paths-show-domains"},
"encoding":{"x":{"field":"km","type":"quantitative"},"y":{"field":"v","type":"quantitative"},"color":{"field":"s","type":"nominal","legend":null}}},
{"data":{"values":[{}]},"mark":{"type":"rect","fill":"white"},"encoding":{"x":{"datum":1338},"x2":{"datum":1592},"y":{"datum":4.93},"y2":{"datum":5.95}}},
{"data":{"values":[{}]},"mark":{"type":"text","text":"CALC1","align":"right","baseline":"middle","fontSize":22,"fontWeight":"bold","color":"#ff0000"},"encoding":{"x":{"datum":1570},"y":{"datum":5.36}}},
{"data":{"values":[{}]},"mark":{"type":"rect","fill":"white","stroke":"black","strokeWidth":1.8},"encoding":{"x":{"datum":55},"x2":{"datum":251},"y":{"datum":4.86},"y2":{"datum":5.65}}},
{"data":{"values":[{}]},"mark":{"type":"text","text":"South","align":"center","baseline":"middle","fontSize":21,"fontWeight":"bold","fontStyle":"italic","color":"#000"},"encoding":{"x":{"datum":153},"y":{"datum":5.24}}},
{"data":{"values":[{}]},"mark":{"type":"rect","fill":"white","stroke":"black","strokeWidth":1.8},"encoding":{"x":{"datum":1126},"x2":{"datum":1305},"y":{"datum":4.86},"y2":{"datum":5.65}}},
{"data":{"values":[{}]},"mark":{"type":"text","text":"North","align":"center","baseline":"middle","fontSize":21,"fontWeight":"bold","fontStyle":"italic","color":"#000"},"encoding":{"x":{"datum":1216},"y":{"datum":5.24}}}
]},
{"width":554,"height":222,"layer":[
{"data":{"name":"c5"},"transform":[{"fold":["l","m","d"],"as":["s","v"]}],"mark":{"type":"line","strokeWidth":2.6,"interpolate":"monotone"},
"encoding":{"x":{"field":"km","type":"quantitative","scale":{"domain":[0,1600]},"axis":{"values":[0,200,400,600,800,1000,1200,1400,1600],"labels":false,"title":null,"tickOpacity":{"condition":{"test":"datum.value % 400 === 0","value":1},"value":0},"gridOpacity":{"condition":{"test":"datum.value === 0 || datum.value === 1600","value":0},"value":1}}},
"y":{"field":"v","type":"quantitative","scale":{"domain":[0,6]},"axis":{"values":[0,1,2,3,4,5,6],"labels":false,"title":null,"tickOpacity":{"condition":{"test":"datum.value % 2 === 0","value":1},"value":0},"gridOpacity":{"condition":{"test":"datum.value === 0 || datum.value === 6","value":0},"value":1}}},
"color":{"field":"s","type":"nominal","scale":{"domain":["d","m","l","b","c","c2"],"range":["#5c5c5c","#8e8e8e","#c6c6c6","#3a2ac2","#33e2f5","#33e2f5"]},"legend":null}}},
{"data":{"name":"c5"},"transform":[{"fold":["b","c","c2"],"as":["s","v"]}],"mark":{"type":"line","strokeWidth":1.3,"invalid":"break-paths-show-domains"},
"encoding":{"x":{"field":"km","type":"quantitative"},"y":{"field":"v","type":"quantitative"},"color":{"field":"s","type":"nominal","legend":null}}},
{"data":{"values":[{}]},"mark":{"type":"rect","fill":"white"},"encoding":{"x":{"datum":1345},"x2":{"datum":1595},"y":{"datum":4.93},"y2":{"datum":5.95}}},
{"data":{"values":[{}]},"mark":{"type":"text","text":"CALC5","align":"right","baseline":"middle","fontSize":22,"fontWeight":"bold","color":"#ff0000"},"encoding":{"x":{"datum":1575},"y":{"datum":5.36}}},
{"data":{"values":[{}]},"mark":{"type":"rect","fill":"white","stroke":"black","strokeWidth":1.8},"encoding":{"x":{"datum":79},"x2":{"datum":271},"y":{"datum":4.86},"y2":{"datum":5.65}}},
{"data":{"values":[{}]},"mark":{"type":"text","text":"South","align":"center","baseline":"middle","fontSize":21,"fontWeight":"bold","fontStyle":"italic","color":"#000"},"encoding":{"x":{"datum":175},"y":{"datum":5.24}}},
{"data":{"values":[{}]},"mark":{"type":"rect","fill":"white","stroke":"black","strokeWidth":1.8},"encoding":{"x":{"datum":1149},"x2":{"datum":1328},"y":{"datum":4.86},"y2":{"datum":5.65}}},
{"data":{"values":[{}]},"mark":{"type":"text","text":"North","align":"center","baseline":"middle","fontSize":21,"fontWeight":"bold","fontStyle":"italic","color":"#000"},"encoding":{"x":{"datum":1238},"y":{"datum":5.24}}}
]},
{"width":554,"height":222,"layer":[
{"data":{"name":"c2"},"transform":[{"fold":["l","m","d"],"as":["s","v"]}],"mark":{"type":"line","strokeWidth":2.6,"interpolate":"monotone"},
"encoding":{"x":{"field":"km","type":"quantitative","scale":{"domain":[0,1600]},"axis":{"values":[0,200,400,600,800,1000,1200,1400,1600],"labels":false,"title":null,"tickOpacity":{"condition":{"test":"datum.value % 400 === 0","value":1},"value":0},"gridOpacity":{"condition":{"test":"datum.value === 0 || datum.value === 1600","value":0},"value":1}}},
"y":{"field":"v","type":"quantitative","scale":{"domain":[0,6]},"axis":{"values":[0,1,2,3,4,5,6],"labelExpr":"datum.value % 2 === 0 ? datum.label : ''","title":"m","titlePadding":12,"tickOpacity":{"condition":{"test":"datum.value % 2 === 0","value":1},"value":0},"gridOpacity":{"condition":{"test":"datum.value === 0 || datum.value === 6","value":0},"value":1}}},
"color":{"field":"s","type":"nominal","scale":{"domain":["d","m","l","b","c","c2"],"range":["#5c5c5c","#8e8e8e","#c6c6c6","#3a2ac2","#33e2f5","#33e2f5"]},"legend":null}}},
{"data":{"name":"c2"},"transform":[{"fold":["b","c","c2"],"as":["s","v"]}],"mark":{"type":"line","strokeWidth":1.3,"invalid":"break-paths-show-domains"},
"encoding":{"x":{"field":"km","type":"quantitative"},"y":{"field":"v","type":"quantitative"},"color":{"field":"s","type":"nominal","legend":null}}},
{"data":{"values":[{}]},"mark":{"type":"rect","fill":"white"},"encoding":{"x":{"datum":1338},"x2":{"datum":1592},"y":{"datum":4.93},"y2":{"datum":5.95}}},
{"data":{"values":[{}]},"mark":{"type":"text","text":"CALC2","align":"right","baseline":"middle","fontSize":22,"fontWeight":"bold","color":"#ff0000"},"encoding":{"x":{"datum":1570},"y":{"datum":5.36}}}
]},
{"width":554,"height":222,"layer":[
{"data":{"name":"c6"},"transform":[{"fold":["l","m","d"],"as":["s","v"]}],"mark":{"type":"line","strokeWidth":2.6,"interpolate":"monotone"},
"encoding":{"x":{"field":"km","type":"quantitative","scale":{"domain":[0,1600]},"axis":{"values":[0,200,400,600,800,1000,1200,1400,1600],"labels":false,"title":null,"tickOpacity":{"condition":{"test":"datum.value % 400 === 0","value":1},"value":0},"gridOpacity":{"condition":{"test":"datum.value === 0 || datum.value === 1600","value":0},"value":1}}},
"y":{"field":"v","type":"quantitative","scale":{"domain":[0,6]},"axis":{"values":[0,1,2,3,4,5,6],"labels":false,"title":null,"tickOpacity":{"condition":{"test":"datum.value % 2 === 0","value":1},"value":0},"gridOpacity":{"condition":{"test":"datum.value === 0 || datum.value === 6","value":0},"value":1}}},
"color":{"field":"s","type":"nominal","scale":{"domain":["d","m","l","b","c","c2"],"range":["#5c5c5c","#8e8e8e","#c6c6c6","#3a2ac2","#33e2f5","#33e2f5"]},"legend":null}}},
{"data":{"name":"c6"},"transform":[{"fold":["b","c","c2"],"as":["s","v"]}],"mark":{"type":"line","strokeWidth":1.3,"invalid":"break-paths-show-domains"},
"encoding":{"x":{"field":"km","type":"quantitative"},"y":{"field":"v","type":"quantitative"},"color":{"field":"s","type":"nominal","legend":null}}},
{"data":{"values":[{}]},"mark":{"type":"rect","fill":"white"},"encoding":{"x":{"datum":1345},"x2":{"datum":1595},"y":{"datum":4.93},"y2":{"datum":5.95}}},
{"data":{"values":[{}]},"mark":{"type":"text","text":"CALC6","align":"right","baseline":"middle","fontSize":22,"fontWeight":"bold","color":"#ff0000"},"encoding":{"x":{"datum":1575},"y":{"datum":5.36}}}
]},
{"width":554,"height":222,"layer":[
{"data":{"name":"c3"},"transform":[{"fold":["l","m","d"],"as":["s","v"]}],"mark":{"type":"line","strokeWidth":2.6,"interpolate":"monotone"},
"encoding":{"x":{"field":"km","type":"quantitative","scale":{"domain":[0,1600]},"axis":{"values":[0,200,400,600,800,1000,1200,1400,1600],"labels":false,"title":null,"tickOpacity":{"condition":{"test":"datum.value % 400 === 0","value":1},"value":0},"gridOpacity":{"condition":{"test":"datum.value === 0 || datum.value === 1600","value":0},"value":1}}},
"y":{"field":"v","type":"quantitative","scale":{"domain":[0,6]},"axis":{"values":[0,1,2,3,4,5,6],"labelExpr":"datum.value % 2 === 0 ? datum.label : ''","title":"m","titlePadding":12,"tickOpacity":{"condition":{"test":"datum.value % 2 === 0","value":1},"value":0},"gridOpacity":{"condition":{"test":"datum.value === 0 || datum.value === 6","value":0},"value":1}}},
"color":{"field":"s","type":"nominal","scale":{"domain":["d","m","l","b","c","c2"],"range":["#5c5c5c","#8e8e8e","#c6c6c6","#3a2ac2","#33e2f5","#33e2f5"]},"legend":null}}},
{"data":{"name":"c3"},"transform":[{"fold":["b","c","c2"],"as":["s","v"]}],"mark":{"type":"line","strokeWidth":1.3,"invalid":"break-paths-show-domains"},
"encoding":{"x":{"field":"km","type":"quantitative"},"y":{"field":"v","type":"quantitative"},"color":{"field":"s","type":"nominal","legend":null}}},
{"data":{"values":[{}]},"mark":{"type":"rect","fill":"white"},"encoding":{"x":{"datum":1338},"x2":{"datum":1592},"y":{"datum":4.93},"y2":{"datum":5.95}}},
{"data":{"values":[{}]},"mark":{"type":"text","text":"CALC3","align":"right","baseline":"middle","fontSize":22,"fontWeight":"bold","color":"#ff0000"},"encoding":{"x":{"datum":1570},"y":{"datum":5.36}}}
]},
{"width":554,"height":222,"layer":[
{"data":{"name":"c7"},"transform":[{"fold":["l","m","d"],"as":["s","v"]}],"mark":{"type":"line","strokeWidth":2.6,"interpolate":"monotone"},
"encoding":{"x":{"field":"km","type":"quantitative","scale":{"domain":[0,1600]},"axis":{"values":[0,200,400,600,800,1000,1200,1400,1600],"labels":false,"title":null,"tickOpacity":{"condition":{"test":"datum.value % 400 === 0","value":1},"value":0},"gridOpacity":{"condition":{"test":"datum.value === 0 || datum.value === 1600","value":0},"value":1}}},
"y":{"field":"v","type":"quantitative","scale":{"domain":[0,6]},"axis":{"values":[0,1,2,3,4,5,6],"labels":false,"title":null,"tickOpacity":{"condition":{"test":"datum.value % 2 === 0","value":1},"value":0},"gridOpacity":{"condition":{"test":"datum.value === 0 || datum.value === 6","value":0},"value":1}}},
"color":{"field":"s","type":"nominal","scale":{"domain":["d","m","l","b","c","c2"],"range":["#5c5c5c","#8e8e8e","#c6c6c6","#3a2ac2","#33e2f5","#33e2f5"]},"legend":null}}},
{"data":{"name":"c7"},"transform":[{"fold":["b","c","c2"],"as":["s","v"]}],"mark":{"type":"line","strokeWidth":1.3,"invalid":"break-paths-show-domains"},
"encoding":{"x":{"field":"km","type":"quantitative"},"y":{"field":"v","type":"quantitative"},"color":{"field":"s","type":"nominal","legend":null}}},
{"data":{"values":[{}]},"mark":{"type":"rect","fill":"white"},"encoding":{"x":{"datum":1345},"x2":{"datum":1595},"y":{"datum":4.93},"y2":{"datum":5.95}}},
{"data":{"values":[{}]},"mark":{"type":"text","text":"CALC7","align":"right","baseline":"middle","fontSize":22,"fontWeight":"bold","color":"#ff0000"},"encoding":{"x":{"datum":1575},"y":{"datum":5.36}}}
]},
{"width":554,"height":222,"layer":[
{"data":{"name":"c4"},"transform":[{"fold":["l","m","d"],"as":["s","v"]}],"mark":{"type":"line","strokeWidth":2.6,"interpolate":"monotone"},
"encoding":{"x":{"field":"km","type":"quantitative","scale":{"domain":[0,1600]},"axis":{"values":[0,200,400,600,800,1000,1200,1400,1600],"format":"d","labelExpr":"datum.value % 400 === 0 ? datum.label : ''","title":"km","titlePadding":5,"tickOpacity":{"condition":{"test":"datum.value % 400 === 0","value":1},"value":0},"gridOpacity":{"condition":{"test":"datum.value === 0 || datum.value === 1600","value":0},"value":1}}},
"y":{"field":"v","type":"quantitative","scale":{"domain":[0,6]},"axis":{"values":[0,1,2,3,4,5,6],"labelExpr":"datum.value % 2 === 0 ? datum.label : ''","title":"m","titlePadding":12,"tickOpacity":{"condition":{"test":"datum.value % 2 === 0","value":1},"value":0},"gridOpacity":{"condition":{"test":"datum.value === 0 || datum.value === 6","value":0},"value":1}}},
"color":{"field":"s","type":"nominal","scale":{"domain":["d","m","l","b","c","c2"],"range":["#5c5c5c","#8e8e8e","#c6c6c6","#3a2ac2","#33e2f5","#33e2f5"]},"legend":null}}},
{"data":{"name":"c4"},"transform":[{"fold":["b","c","c2"],"as":["s","v"]}],"mark":{"type":"line","strokeWidth":1.3,"invalid":"break-paths-show-domains"},
"encoding":{"x":{"field":"km","type":"quantitative"},"y":{"field":"v","type":"quantitative"},"color":{"field":"s","type":"nominal","legend":null}}},
{"data":{"values":[{}]},"mark":{"type":"rect","fill":"white"},"encoding":{"x":{"datum":1338},"x2":{"datum":1592},"y":{"datum":4.93},"y2":{"datum":5.95}}},
{"data":{"values":[{}]},"mark":{"type":"text","text":"CALC4","align":"right","baseline":"middle","fontSize":22,"fontWeight":"bold","color":"#ff0000"},"encoding":{"x":{"datum":1570},"y":{"datum":5.36}}}
]},
{"width":554,"height":222,"layer":[
{"data":{"name":"c8"},"transform":[{"fold":["l","m","d"],"as":["s","v"]}],"mark":{"type":"line","strokeWidth":2.6,"interpolate":"monotone"},
"encoding":{"x":{"field":"km","type":"quantitative","scale":{"domain":[0,1600]},"axis":{"values":[0,200,400,600,800,1000,1200,1400,1600],"format":"d","labelExpr":"datum.value % 400 === 0 && datum.value > 0 ? datum.label : ''","title":"km","titlePadding":5,"tickOpacity":{"condition":{"test":"datum.value % 400 === 0","value":1},"value":0},"gridOpacity":{"condition":{"test":"datum.value === 0 || datum.value === 1600","value":0},"value":1}}},
"y":{"field":"v","type":"quantitative","scale":{"domain":[0,6]},"axis":{"values":[0,1,2,3,4,5,6],"labels":false,"title":null,"tickOpacity":{"condition":{"test":"datum.value % 2 === 0","value":1},"value":0},"gridOpacity":{"condition":{"test":"datum.value === 0 || datum.value === 6","value":0},"value":1}}},
"color":{"field":"s","type":"nominal","scale":{"domain":["d","m","l","b","c","c2"],"range":["#5c5c5c","#8e8e8e","#c6c6c6","#3a2ac2","#33e2f5","#33e2f5"]},"legend":null}}},
{"data":{"name":"c8"},"transform":[{"fold":["b","c","c2"],"as":["s","v"]}],"mark":{"type":"line","strokeWidth":1.3,"invalid":"break-paths-show-domains"},
"encoding":{"x":{"field":"km","type":"quantitative"},"y":{"field":"v","type":"quantitative"},"color":{"field":"s","type":"nominal","legend":null}}},
{"data":{"values":[{}]},"mark":{"type":"rect","fill":"white"},"encoding":{"x":{"datum":1345},"x2":{"datum":1595},"y":{"datum":4.93},"y2":{"datum":5.95}}},
{"data":{"values":[{}]},"mark":{"type":"text","text":"CALC8","align":"right","baseline":"middle","fontSize":22,"fontWeight":"bold","color":"#ff0000"},"encoding":{"x":{"datum":1575},"y":{"datum":5.36}}}
]}
]
}
